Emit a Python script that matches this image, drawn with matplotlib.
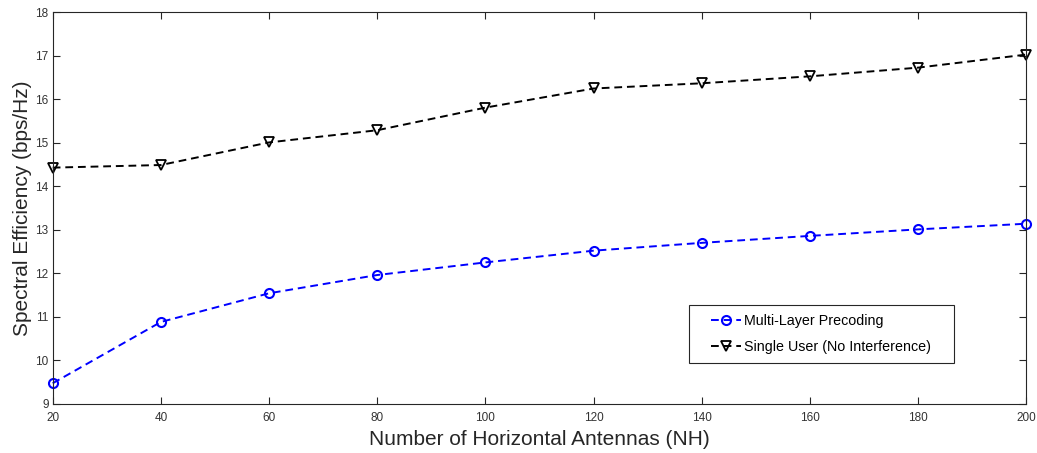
import matplotlib.pyplot as plt
from matplotlib.legend_handler import HandlerLine2D
from matplotlib.lines import Line2D

plt.rcParams['font.family'] = ['Liberation Sans', 'DejaVu Sans']

nh = [20, 40, 60, 80, 100, 120, 140, 160, 180, 200]
multi_layer = [9.47, 10.88, 11.54, 11.96, 12.25, 12.52, 12.70, 12.86, 13.01, 13.14]
single_user = [14.43, 14.49, 15.01, 15.29, 15.81, 16.25, 16.37, 16.53, 16.73, 17.03]

fig = plt.figure(figsize=(10.37, 4.53), dpi=100)
ax = fig.add_axes([0.0508, 0.1088, 0.9389, 0.8638])

ax.plot(nh, multi_layer, '--o', color='blue', lw=1.4, ms=6.5, mew=1.5,
        mfc='none', dashes=(4, 2.5), label='Multi-Layer Precoding', clip_on=False)
ax.plot(nh, single_user, '--v', color='black', lw=1.4, ms=7, mew=1.3,
        mfc='none', dashes=(4, 2.5), label='Single User (No Interference)', clip_on=False)

ax.set_xlim(20, 200)
ax.set_ylim(9, 18)
ax.set_xticks(range(20, 201, 20))
ax.set_yticks(range(9, 19))
ax.tick_params(direction='in', top=True, right=True, length=5, width=0.8,
               labelsize=8.5, labelcolor='#333333', color='#262626')
ax.tick_params(axis='x', pad=6)
ax.tick_params(axis='y', pad=3)
for s in ax.spines.values():
    s.set_color('#262626')
    s.set_linewidth(0.8)

ax.set_xlabel('Number of Horizontal Antennas (NH)', fontsize=15, color='#262626', labelpad=4)
ax.set_ylabel('Spectral Efficiency (bps/Hz)', fontsize=15, color='#262626', labelpad=2)

leg = ax.legend(loc='lower left', bbox_to_anchor=(0.654, 0.104, 0.272, 0.147),
                mode='expand', fontsize=10.3, fancybox=False, framealpha=1,
                edgecolor='#262626', handlelength=3.0, handletextpad=0.2,
                borderaxespad=0, labelspacing=0.9, borderpad=0.6,
                handler_map={Line2D: HandlerLine2D(xpad=0.9)})
leg.get_frame().set_linewidth(0.8)

fig.savefig('out.png', dpi=100)
